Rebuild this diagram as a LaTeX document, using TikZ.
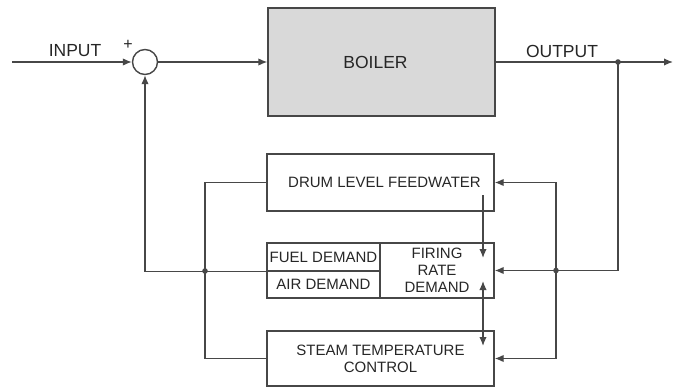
\documentclass[tikz,border=0pt]{standalone}
\usepackage{fontspec}
\setmainfont{Liberation Sans}
\usetikzlibrary{arrows,arrows.meta,positioning}

\begin{document}
\begin{tikzpicture}[
  x=1pt, y=-1pt,
  color=black!72, line width=1.4pt,
  every node/.style={font=\fontsize{15}{17}\selectfont, text=black!85, inner sep=0pt},
  biglabel/.style={font=\fontsize{17.5}{20}\selectfont},
  blockbox/.style={draw, rectangle, align=center},
  sumnode/.style={draw, circle, minimum size=25pt},
  >={Latex[length=9pt,width=7.5pt]}
]
\useasboundingbox (0,0) rectangle (673,388);

\node[sumnode] (sum) at (145,62) {};
\node[blockbox, minimum width=227pt, minimum height=108pt, fill=gray!30] (boiler) at (381.5,62) {\hspace{-12pt}\fontsize{17.5}{20}\selectfont BOILER};
\node[blockbox, minimum width=227pt, minimum height=57pt] (drum) at (380.5,182.5) {\hspace{8pt}DRUM LEVEL FEEDWATER};
\node[blockbox, minimum width=113pt, minimum height=28pt] (fuel) at (323.5,257) {FUEL DEMAND};
\node[blockbox, minimum width=113pt, minimum height=27pt] (air) at (323.5,284.5) {AIR DEMAND};
\node[blockbox, minimum width=114pt, minimum height=55pt] (firing) at (437,270.5) {FIRING\\RATE\\DEMAND};
\node[blockbox, minimum width=227pt, minimum height=55pt] (steam) at (380.5,358.5) {STEAM TEMPERATURE\\CONTROL};

\node[biglabel] (input) at (75,51) {INPUT};
\node[font=\fontsize{16}{18}\selectfont] (plus) at (128,45) {+};
\node[biglabel] (output) at (562,51) {OUTPUT};

\coordinate (start) at (12,62);
\coordinate (out) at (618,62);
\coordinate (finish) at (673,62);
\coordinate (split) at (556,270.5);
\coordinate (leftjoin) at (205,271);
\coordinate (fwtop) at (483,195);
\coordinate (fwtip) at (483,258);
\coordinate (sttop) at (483,281);
\coordinate (sttip) at (483,346);

\draw[->] (start) -- (sum.west);
\draw[->] (sum.east) -- (boiler.west);
\draw[->] (boiler.east) -- (finish);
\draw (out) |- (split);
\draw[->] (split) |- (drum.east);
\draw[->] (split) -- (firing.east);
\draw[->] (split) |- (steam.east);
\draw (drum.west) -| (leftjoin) |- (steam.west);
\draw[->] (fuel.south west) -| (sum.south);
\draw[->] (fwtop) -- (fwtip);
\draw[<->] (sttop) -- (sttip);
\fill (out) circle (2.8);
\fill (split) circle (2.8);
\fill (leftjoin) circle (2.8);
\end{tikzpicture}
\end{document}
